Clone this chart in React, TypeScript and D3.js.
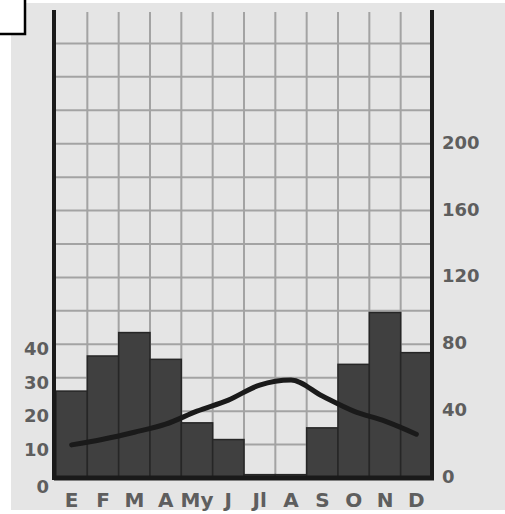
import React from "react";
import * as d3 from "d3";

const width = 505;
const height = 514;

// climograph: bars = precipitation (mm, right axis), line = temperature (°C, left axis)
const months = ["E", "F", "M", "A", "My", "J", "Jl", "A", "S", "O", "N", "D"];
const precipitation = [52, 73, 87, 71, 33, 23, 2, 2, 30, 68, 99, 75];
const temperature = [9.9, 11.6, 13.7, 16.1, 20, 23.3, 27.8, 29.3, 24.5, 20, 17, 13.1];
const precipTicks = [0, 40, 80, 120, 160, 200];
const tempTicks = [0, 10, 20, 30, 40];

const left = 56;
const right = 432;
const top = 10;
const bottom = 478;

const x = d3
  .scaleBand<number>()
  .domain(months.map((_, i) => i))
  .range([left, right])
  .padding(0);

const yP = d3.scaleLinear().domain([0, 280]).range([bottom, top]);
// P = 2T, so temperature runs on half the precipitation scale
const yT = d3.scaleLinear().domain([0, 140]).range([bottom, top]);

const gridRows = d3.range(20, 280, 20);

const line = d3
  .line<number>()
  .x((_, i) => x(i)! + x.bandwidth() / 2)
  .y(d => yT(d))
  .curve(d3.curveMonotoneX);

const labelStyle = {
  fontFamily: "DejaVu Sans",
  fontWeight: "bold" as const,
  fill: "#5e5e5e"
};

export default function App() {
  return (
    <svg
      width={width}
      height={height}
      style={{ position: "absolute", left: 0, top: 0, background: "#fff" }}
    >
      {/* paper */}
      <rect x={11} y={3} width={width - 11} height={507} fill="#e5e5e5" />

      {/* grid */}
      <g stroke="#a3a3a3" strokeWidth={2}>
        {gridRows.map(v => (
          <line key={"h" + v} x1={left} x2={right} y1={yP(v)} y2={yP(v)} />
        ))}
        {months.slice(1).map((_, i) => (
          <line key={"v" + i} x1={x(i + 1)} x2={x(i + 1)} y1={top + 2} y2={bottom} />
        ))}
      </g>

      {/* precipitation bars */}
      {precipitation.map((d, i) => (
        <rect
          key={i}
          x={x(i)}
          y={yP(d)}
          width={x.bandwidth()}
          height={bottom - yP(d)}
          fill="#404040"
          stroke="#262626"
          strokeWidth={1.5}
        />
      ))}

      {/* temperature line */}
      <path
        d={line(temperature) || ""}
        fill="none"
        stroke="#1a1a1a"
        strokeWidth={5}
        strokeLinecap="round"
        strokeLinejoin="round"
      />

      {/* axes */}
      <line x1={left - 2} x2={left - 2} y1={top} y2={bottom + 2} stroke="#1a1a1a" strokeWidth={4} />
      <line x1={right} x2={right} y1={top} y2={bottom + 2} stroke="#1a1a1a" strokeWidth={4} />
      <line x1={left - 2} x2={right + 2} y1={bottom} y2={bottom} stroke="#1a1a1a" strokeWidth={5} />

      {/* left temperature labels */}
      {tempTicks.map(t => (
        <text
          key={"t" + t}
          x={49}
          y={yT(t) + (t === 0 ? 10 : 6)}
          textAnchor="end"
          dominantBaseline="middle"
          fontSize={18}
          {...labelStyle}
        >
          {t}
        </text>
      ))}

      {/* right precipitation labels */}
      {precipTicks.map(p => (
        <text
          key={"p" + p}
          x={442}
          y={yP(p)}
          dominantBaseline="middle"
          fontSize={18}
          {...labelStyle}
        >
          {p}
        </text>
      ))}

      {/* month labels */}
      {months.map((m, i) => (
        <text
          key={"m" + i}
          x={x(i)! + x.bandwidth() / 2}
          y={507}
          textAnchor="middle"
          fontSize={20}
          {...labelStyle}
        >
          {m}
        </text>
      ))}

      {/* cut-off box in the corner */}
      <rect x={-2} y={-2} width={27} height={36} fill="#fff" stroke="#000" strokeWidth={2.5} />
    </svg>
  );
}
